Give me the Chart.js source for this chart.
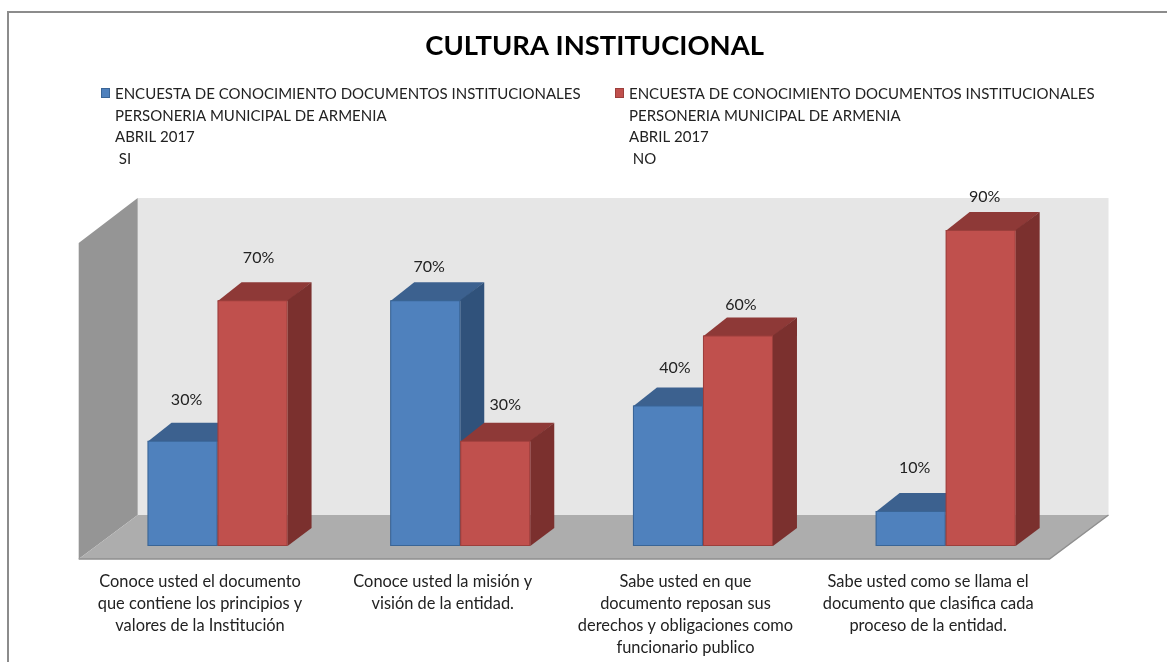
<!DOCTYPE html>
<html>
<head>
<meta charset="utf-8">
<title>Cultura institucional</title>
<style>
    html, body { margin: 0; padding: 0; background: #fff; overflow: hidden; }
    canvas { display: block; }
</style>
<script src="https://cdn.jsdelivr.net/npm/chart.js@4/dist/chart.umd.js"></script>
</head>
<body>
<canvas id="chart" width="1167" height="662"></canvas>
<script>
const categories = [
    ['Conoce usted el documento', 'que contiene los principios y', 'valores de la Institución'],
    ['Conoce usted la misión y', 'visión de la entidad.'],
    ['Sabe usted en que', 'documento reposan sus', 'derechos y obligaciones como', 'funcionario publico'],
    ['Sabe usted como se llama el', 'documento que clasifica cada', 'proceso de la entidad.']
]
const siValues = [30, 70, 40, 10]
const noValues = [70, 30, 60, 90]
const siLabel = ['ENCUESTA DE CONOCIMIENTO DOCUMENTOS INSTITUCIONALES', 'PERSONERIA MUNICIPAL DE ARMENIA', 'ABRIL 2017', ' SI']
const noLabel = ['ENCUESTA DE CONOCIMIENTO DOCUMENTOS INSTITUCIONALES', 'PERSONERIA MUNICIPAL DE ARMENIA', 'ABRIL 2017', ' NO']
const chartTitle = 'CULTURA INSTITUCIONAL'

// the value labels were moved by hand in the original, [dx, dy] from the top of each bar
const siLabelOffsets = [[4, 41], [4, 33], [7, 38], [4, 43]]
const noLabelOffsets = [[6, 42], [10, 36], [3, 31], [4, 33]]

const FONT = 'Lato, sans-serif'
const DEPTH_X = 24
const DEPTH_Y = 18

const faces = [
    { top: '#3c618f', side: '#30527b', edge: '#3a6596' },
    { top: '#8e3937', side: '#7b302e', edge: '#9c3f3c' }
]

function polygon(ctx, points, fill) {
    ctx.beginPath()
    points.forEach(([x, y], i) => i ? ctx.lineTo(x, y) : ctx.moveTo(x, y))
    ctx.closePath()
    ctx.fillStyle = fill
    ctx.fill()
}

function drawDepth(chart, meta, index) {
    const ctx = chart.ctx
    const color = faces[index]
    const base = chart.scales.y.getPixelForValue(0)
    ctx.save()
    meta.data.forEach(bar => {
        const l = bar.x - bar.width / 2
        const r = bar.x + bar.width / 2
        polygon(ctx, [[l, bar.y + 1], [l + DEPTH_X, bar.y - DEPTH_Y], [r + DEPTH_X, bar.y - DEPTH_Y], [r, bar.y + 1]], color.top)
        polygon(ctx, [[r, bar.y], [r + DEPTH_X, bar.y - DEPTH_Y], [r + DEPTH_X, base - DEPTH_Y], [r, base]], color.side)
        // backing so the seam of the bar border does not show light
        polygon(ctx, [[l, bar.y], [r, bar.y], [r, base], [l, base]], color.edge)
    })
    ctx.restore()
}

const frame3d = {
    id: 'frame3d',
    afterLayout(chart) {
        // original title sits a bit right of the plot center
        chart.titleBlock.left += 13
        chart.titleBlock.right += 13
    },
    beforeDraw(chart) {
        const ctx = chart.ctx
        ctx.save()
        ctx.strokeStyle = '#8c8c8c'
        ctx.lineWidth = 2
        ctx.beginPath()
        ctx.moveTo(8, 662)
        ctx.lineTo(8, 12)
        ctx.lineTo(1167, 12)
        ctx.stroke()
        ctx.restore()
    },
    beforeDatasetsDraw(chart) {
        const ctx = chart.ctx
        const area = chart.chartArea
        const left = area.left - 17.5
        const right = area.right - 17.5
        const front = area.bottom + 13
        const back = front - 44
        const top = area.top + 3
        ctx.save()
        polygon(ctx, [[left + 59, top], [right + 59, top], [right + 59, back], [left + 59, back]], '#e6e6e6')
        polygon(ctx, [[left, top + 45], [left + 59, top], [left + 59, back], [left, front]], '#959595')
        polygon(ctx, [[left, front], [left + 59, back], [right + 59, back], [right, front]], '#adadad')
        ctx.strokeStyle = '#8f8f8f'
        ctx.lineWidth = 1.5
        ctx.beginPath()
        ctx.moveTo(left, front)
        ctx.lineTo(right, front)
        ctx.lineTo(right + 59, back)
        ctx.stroke()
        ctx.restore()
    },
    // chart.js paints the first dataset last, here the red one has to end up in front
    beforeDatasetDraw(chart, args) {
        if (args.index === 1) return false
        drawDepth(chart, args.meta, 0)
    },
    afterDatasetDraw(chart, args) {
        if (args.index !== 0) return
        const red = chart.getDatasetMeta(1)
        drawDepth(chart, red, 1)
        red.data.forEach(bar => bar.draw(chart.ctx))
    },
    afterDatasetsDraw(chart) {
        const ctx = chart.ctx
        ctx.save()
        ctx.font = '16px ' + FONT
        ctx.fillStyle = '#222'
        ctx.textAlign = 'center'
        ctx.textBaseline = 'middle'
        const offsets = [siLabelOffsets, noLabelOffsets]
        chart.data.datasets.forEach((dataset, d) => {
            chart.getDatasetMeta(d).data.forEach((bar, i) => {
                const [dx, dy] = offsets[d][i]
                ctx.fillText(dataset.data[i] + '%', bar.x + dx, bar.y - dy)
            })
        })
        ctx.restore()
    },
    afterDraw(chart) {
        // two blocks side by side, four lines each
        const ctx = chart.ctx
        const spots = [101, 615]
        ctx.save()
        ctx.font = '15px ' + FONT
        ctx.textBaseline = 'middle'
        chart.data.datasets.forEach((dataset, d) => {
            ctx.fillStyle = dataset.backgroundColor
            ctx.strokeStyle = dataset.borderColor
            ctx.fillRect(spots[d], 88, 9, 10)
            ctx.strokeRect(spots[d] + 0.5, 88.5, 8, 9)
            ctx.fillStyle = '#222'
            dataset.label.forEach((line, i) => {
                ctx.fillText(line, spots[d] + 14, 94 + i * 21.8)
            })
        })
        ctx.restore()
    }
}

const chart = new Chart(document.getElementById('chart'), {
    type: 'bar',
    data: {
        labels: categories,
        datasets: [
            { label: siLabel, data: siValues, backgroundColor: '#4f81bd', borderColor: faces[0].edge, borderWidth: 1, borderSkipped: false },
            { label: noLabel, data: noValues, backgroundColor: '#c0504d', borderColor: faces[1].edge, borderWidth: 1, borderSkipped: false }
        ]
    },
    options: {
        responsive: false,
        animation: false,
        layout: { padding: { left: 96.2, right: 100, top: 0, bottom: 0 } },
        datasets: { bar: { categoryPercentage: 0.577, barPercentage: 1 } },
        plugins: {
            legend: { display: false },
            tooltip: { enabled: false },
            title: {
                display: true,
                text: chartTitle,
                color: '#000',
                font: { family: FONT, size: 27.4, weight: 'bold', lineHeight: 1.2 },
                padding: { top: 30, bottom: 132.1 }
            }
        },
        scales: {
            x: {
                grid: { display: false, drawTicks: false },
                border: { display: false },
                afterFit(scale) { scale.height = 116 },
                ticks: {
                    autoSkip: false,
                    maxRotation: 0,
                    padding: 25,
                    labelOffset: -17.5,
                    color: '#222',
                    font: { family: FONT, size: 16.4, lineHeight: 1.33 }
                }
            },
            y: {
                display: false,
                min: 0,
                max: 100
            }
        }
    },
    plugins: [frame3d]
})
</script>
</body>
</html>
